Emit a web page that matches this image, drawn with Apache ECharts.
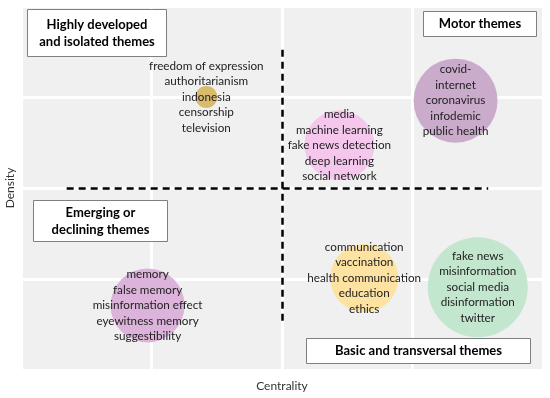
<!DOCTYPE html>
<html>
<head>
<meta charset="utf-8">
<script src="https://cdn.jsdelivr.net/npm/echarts@6/dist/echarts.min.js"></script>
<style>html,body{margin:0;padding:0;background:#fff}#c{width:550px;height:398px}</style>
</head>
<body>
<div id="c"></div>
<script>
// ---- data ----
const clusterKeywords = [
  ['freedom of expression', 'authoritarianism', 'indonesia', 'censorship', 'television'],
  ['media', 'machine learning', 'fake news detection', 'deep learning', 'social network'],
  ['covid-', 'internet', 'coronavirus', 'infodemic', 'public health'],
  ['memory', 'false memory', 'misinformation effect', 'eyewitness memory', 'suggestibility'],
  ['communication', 'vaccination', 'health communication', 'education', 'ethics'],
  ['fake news', 'misinformation', 'social media', 'disinformation', 'twitter']
];
const centrality = [1.42, 2.44, 3.33, 0.97, 2.63, 3.50];
const density    = [3.00, 2.47, 2.96, 0.71, 1.01, 0.91];
const bubbleSize = [22, 70, 84, 74, 68, 100];
const bubbleColors = ['#d8bb6c', '#f5c7ec', '#cbabcc', '#dcb3da', '#fde2a2', '#c3e6cf'];
const quadrantTitles = ['Highly developed\nand isolated themes', 'Motor themes', 'Emerging or\ndeclining themes', 'Basic and transversal themes'];
const xAxisName = 'Centrality';
const yAxisName = 'Density';

const FONT = 'Lato';
const chart = echarts.init(document.getElementById('c'));

const points = centrality.map((x, i) => ({
  value: [x, density[i]],
  symbolSize: bubbleSize[i],
  itemStyle: { color: bubbleColors[i], opacity: 1 },
  label: { formatter: clusterKeywords[i].join('\n') }
}));

function box(left, top, w, h, text) {
  return {
    type: 'group', left: left, top: top, z: 100,
    children: [
      { type: 'rect', z: 100, shape: { x: 0, y: 0, width: w, height: h },
        style: { fill: '#fff', stroke: '#7f7f7f', lineWidth: 1 } },
      { type: 'text', z: 101, x: w / 2, y: h / 2,
        style: { text: text, fill: '#000', font: 'bold 13px ' + FONT,
                 textAlign: 'center', textVerticalAlign: 'middle', lineHeight: 17 } }
    ]
  };
}

chart.setOption({
  animation: false,
  backgroundColor: '#fff',
  grid: { left: 21, right: 7, top: 6, bottom: 28, backgroundColor: '#f0f0f0', show: true, borderWidth: 0,
          containLabel: false, outerBoundsMode: 'none' },
  xAxis: {
    type: 'value', min: 0, max: 4, interval: 1,
    name: xAxisName, nameLocation: 'middle', nameGap: 10,
    nameTextStyle: { fontFamily: FONT, fontSize: 12, color: '#333' },
    axisLine: { show: false }, axisTick: { show: false }, axisLabel: { show: false },
    splitLine: { show: true, lineStyle: { color: '#fff', width: 3 } }
  },
  yAxis: {
    type: 'value', min: 0, max: 4, interval: 1,
    name: yAxisName, nameLocation: 'middle', nameGap: 5,
    nameTextStyle: { fontFamily: FONT, fontSize: 12, color: '#333' },
    axisLine: { show: false }, axisTick: { show: false }, axisLabel: { show: false },
    splitLine: { show: true, lineStyle: { color: '#fff', width: 3 } }
  },
  series: [{
    type: 'scatter',
    symbol: 'circle',
    data: points,
    label: {
      show: true, position: 'inside', color: '#222',
      fontFamily: FONT, fontSize: 11.7, lineHeight: 15.5
    },
    markLine: {
      silent: true, symbol: 'none', label: { show: false },
      lineStyle: { color: '#000', type: [7, 5], width: 2.5 },
      data: [
        [{ coord: [2.0, 3.52] }, { coord: [2.0, 0.5] }],
        [{ coord: [0.35, 2.0] }, { coord: [3.58, 2.0] }]
      ]
    }
  }],
  graphic: [
    box(27, 9, 139, 47, quadrantTitles[0]),
    box(423, 11, 113, 25, quadrantTitles[1]),
    box(33, 200, 134, 41, quadrantTitles[2]),
    box(306, 338, 224, 25, quadrantTitles[3])
  ]
});
</script>
</body>
</html>
